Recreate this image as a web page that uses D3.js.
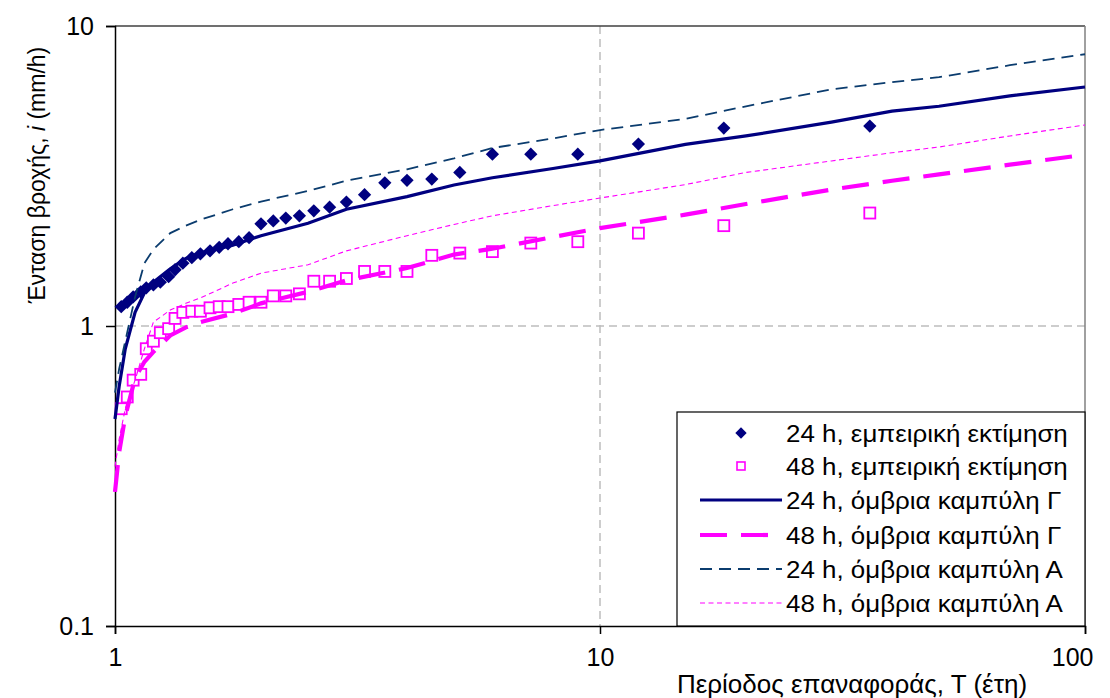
<!DOCTYPE html>
<html>
<head>
<meta charset="utf-8">
<script src="https://cdn.jsdelivr.net/npm/d3@7"></script>
<style>
  html, body { margin: 0; padding: 0; background: #fff; }
  svg { display: block; font-family: "Liberation Sans", Arial, sans-serif; }
</style>
</head>
<body>
<svg id="chart" width="1110" height="698"></svg>
<script>
// Return periods (years) of the ranked observations
const empiricalT = [1.03, 1.06, 1.09, 1.13, 1.16, 1.2, 1.24, 1.29, 1.33, 1.38, 1.44, 1.5,
  1.57, 1.64, 1.71, 1.8, 1.89, 2, 2.12, 2.25, 2.4, 2.57, 2.77, 3, 3.27, 3.6, 4, 4.5,
  5.14, 6, 7.2, 9, 12, 18, 36];
// Empirical rainfall intensities (mm/h)
const empirical24h = [1.16, 1.2, 1.25, 1.3, 1.34, 1.37, 1.4, 1.46, 1.54, 1.62, 1.69, 1.74,
  1.78, 1.83, 1.88, 1.91, 1.97, 2.19, 2.24, 2.29, 2.33, 2.42, 2.49, 2.59, 2.74, 3.0, 3.06, 3.09,
  3.25, 3.74, 3.74, 3.74, 4.04, 4.57, 4.64];
const empirical48h = [0.53, 0.58, 0.66, 0.69, 0.84, 0.89, 0.95, 0.98, 1.06, 1.11, 1.12, 1.12,
  1.15, 1.16, 1.16, 1.18, 1.2, 1.2, 1.26, 1.26, 1.28, 1.41, 1.41, 1.44, 1.52, 1.52, 1.52, 1.72,
  1.75, 1.77, 1.89, 1.91, 2.04, 2.16, 2.38];

// Return periods at which the IDF curves are tabulated
const curveT = [1, 1.02, 1.05, 1.1, 1.15, 1.2, 1.3, 1.4, 1.5, 1.75, 2, 2.5, 3, 4, 5, 6, 8,
  10, 15, 20, 30, 40, 50, 70, 100];
const curve24hG = [0.49, 0.63, 0.84, 1.11, 1.29, 1.4, 1.55, 1.68, 1.75, 1.86, 2.0, 2.2, 2.45,
  2.7, 2.95, 3.12, 3.35, 3.55, 4.03, 4.3, 4.78, 5.2, 5.4, 5.85, 6.26];
const curve48hG = [0.28, 0.38, 0.5, 0.67, 0.76, 0.82, 0.93, 0.99, 1.03, 1.1, 1.19, 1.3, 1.42,
  1.56, 1.73, 1.81, 1.98, 2.12, 2.35, 2.55, 2.85, 3.05, 3.2, 3.45, 3.72];
const curve24hA = [0.6, 0.72, 0.89, 1.25, 1.62, 1.8, 2.04, 2.16, 2.26, 2.45, 2.6, 2.82, 3.05,
  3.33, 3.62, 3.92, 4.22, 4.5, 4.9, 5.4, 6.15, 6.5, 6.75, 7.4, 8.05];
const curve48hA = [0.34, 0.42, 0.53, 0.66, 0.84, 1.03, 1.13, 1.19, 1.24, 1.39, 1.5, 1.6, 1.78,
  2.0, 2.18, 2.33, 2.52, 2.67, 2.96, 3.25, 3.55, 3.78, 3.95, 4.3, 4.68];

const xTicks = [1, 10, 100];
const xTickLabels = ["1", "10", "100"];
const yTicks = [0.1, 1, 10];
const yTickLabels = ["0.1", "1", "10"];

const legendLabels = [
  "24 h, εμπειρική εκτίμηση",
  "48 h, εμπειρική εκτίμηση",
  "24 h, όμβρια καμπύλη Γ",
  "48 h, όμβρια καμπύλη Γ",
  "24 h, όμβρια καμπύλη Α",
  "48 h, όμβρια καμπύλη Α"
];

const NAVY = "#000080", MAGENTA = "#FF00FF", DARKBLUE = "#0B3C6E";

const plot = { left: 115, right: 1085, top: 26, bottom: 626 };
const svg = d3.select("#chart");

const x = d3.scaleLog().domain([1, 100]).range([plot.left, plot.right]);
const y = d3.scaleLog().domain([0.1, 10]).range([plot.bottom, plot.top]);

// gridlines
const grid = svg.append("g").attr("stroke", "#BDBDBD").attr("stroke-width", 1.5)
  .attr("stroke-dasharray", "8,5");
grid.append("line").attr("x1", plot.left).attr("x2", plot.right)
  .attr("y1", y(1)).attr("y2", y(1));
grid.append("line").attr("x1", x(10)).attr("x2", x(10))
  .attr("y1", plot.top).attr("y2", plot.bottom);

// plot area frame (top and right)
svg.append("line").attr("x1", plot.left).attr("x2", plot.right)
  .attr("y1", plot.top).attr("y2", plot.top).attr("stroke", "#404040").attr("stroke-width", 1.5);
svg.append("line").attr("x1", plot.right).attr("x2", plot.right)
  .attr("y1", plot.top).attr("y2", plot.bottom).attr("stroke", "#808080").attr("stroke-width", 1.5);

// axes
const xAxis = d3.axisBottom(x).tickValues(xTicks)
  .tickFormat((d, i) => xTickLabels[i]).tickSize(8).tickPadding(14);
const yAxis = d3.axisLeft(y).tickValues(yTicks)
  .tickFormat((d, i) => yTickLabels[i]).tickSize(9).tickPadding(12);

const gx = svg.append("g").attr("transform", `translate(0,${plot.bottom})`).call(xAxis);
const gy = svg.append("g").attr("transform", `translate(${plot.left},0)`).call(yAxis);
[gx, gy].forEach(g => {
  g.select(".domain").attr("stroke", "#000").attr("stroke-width", 1.5);
  g.selectAll(".tick line").attr("stroke", "#000").attr("stroke-width", 1.5);
  g.selectAll(".tick text").attr("font-size", 25).attr("fill", "#000")
    .attr("font-family", "'Liberation Sans', Arial, sans-serif");
});
gx.selectAll(".tick text").attr("dy", "0.71em");
gx.selectAll(".tick text").filter(d => d === 100).attr("text-anchor", "end").attr("dx", 8);

// axis titles
svg.append("text").attr("transform", "translate(852,693) scale(1.04,1)")
  .attr("text-anchor", "middle")
  .attr("font-size", 25).text("Περίοδος επαναφοράς, Τ (έτη)");
const yt = svg.append("text").attr("transform", "translate(45,175) rotate(-90)")
  .attr("text-anchor", "middle").attr("font-size", 23);
yt.append("tspan").text("Ένταση βροχής, ");
yt.append("tspan").attr("font-style", "italic").text("i");
yt.append("tspan").text(" (mm/h)");

// empirical markers
const body = svg.append("g");
body.append("g").selectAll("path").data(empiricalT).join("path")
  .attr("d", d3.symbol().type(d3.symbolSquare).size(88)())
  .attr("transform", (d, i) => `translate(${x(d)},${y(empirical24h[i])}) rotate(45)`)
  .attr("fill", NAVY);
body.append("g").selectAll("rect").data(empiricalT).join("rect")
  .attr("x", d => x(d) - 5.5).attr("y", (d, i) => y(empirical48h[i]) - 5.5)
  .attr("width", 11).attr("height", 11)
  .attr("fill", "#fff").attr("stroke", MAGENTA).attr("stroke-width", 1.8);

// IDF curves
const line = vals => d3.line().x(d => x(d)).y((d, i) => y(vals[i]))(curveT);
const curves = [
  { v: curve24hG, color: NAVY, w: 3.2, dash: null },
  { v: curve48hG, color: MAGENTA, w: 4.2, dash: "27,14" },
  { v: curve24hA, color: DARKBLUE, w: 1.8, dash: "12,7" },
  { v: curve48hA, color: MAGENTA, w: 1.1, dash: "5,3.5" }
];
curves.forEach(c => {
  body.append("path").attr("d", line(c.v)).attr("fill", "none")
    .attr("stroke", c.color).attr("stroke-width", c.w)
    .attr("stroke-dasharray", c.dash);
});

// legend
const lg = svg.append("g");
lg.append("rect").attr("x", 677).attr("y", 412).attr("width", 408).attr("height", 214)
  .attr("fill", "#fff").attr("stroke", "#000").attr("stroke-width", 1.2);
const rowY = [433, 466, 500, 535, 569, 603];
lg.append("path").attr("d", d3.symbol().type(d3.symbolSquare).size(64)())
  .attr("transform", `translate(741,${rowY[0]}) rotate(45)`).attr("fill", NAVY);
lg.append("rect").attr("x", 737).attr("y", rowY[1] - 4).attr("width", 8).attr("height", 8)
  .attr("fill", "#fff").attr("stroke", MAGENTA).attr("stroke-width", 1.6);
curves.forEach((c, i) => {
  lg.append("line").attr("x1", 700).attr("x2", 782).attr("y1", rowY[i + 2]).attr("y2", rowY[i + 2])
    .attr("stroke", c.color).attr("stroke-width", c.w).attr("stroke-dasharray", c.dash);
});
lg.selectAll("text.lab").data(legendLabels).join("text").attr("class", "lab")
  .attr("transform", (d, i) => `translate(786,${rowY[i]}) scale(1.08,1)`)
  .attr("dy", "0.36em")
  .attr("font-size", 24).text(d => d);
</script>
</body>
</html>
